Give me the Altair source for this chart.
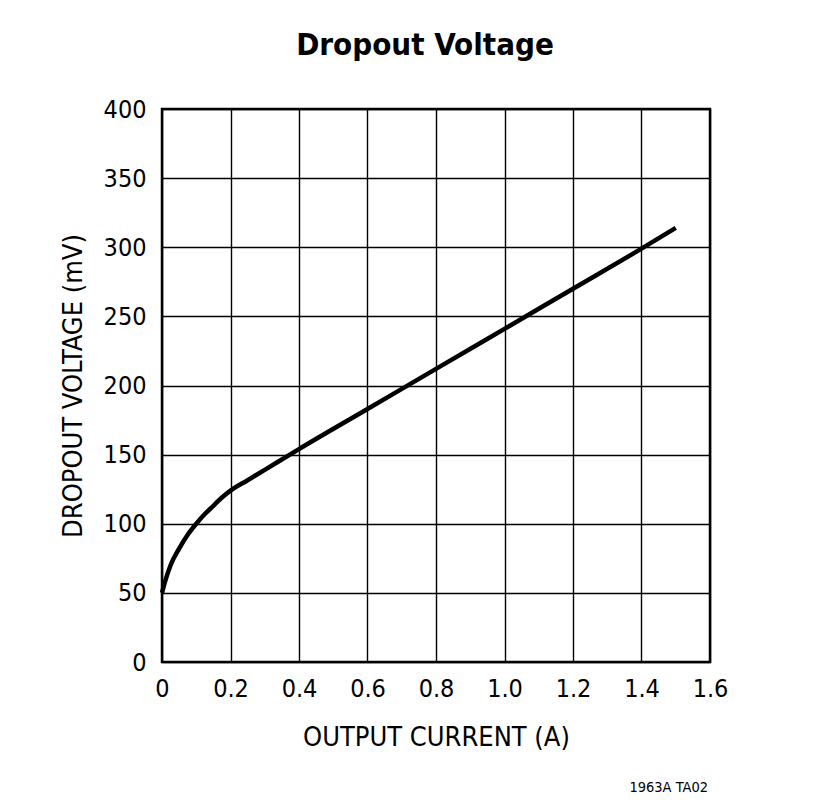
import altair as alt
import pandas as pd

current_a = [0.0, 0.01, 0.025, 0.05, 0.075, 0.1, 0.125, 0.15, 0.175, 0.2, 0.25, 0.3, 0.4, 0.6, 0.8, 1.0, 1.2, 1.4, 1.5]
dropout_mv = [50, 59, 70, 82, 92, 100, 107, 113, 119, 124, 131.5, 139, 154, 183, 212, 241, 270, 299, 314]

footnote = ["1963A TA02"]

df = pd.DataFrame({"current": current_a, "dropout": dropout_mv})
FONT = "DejaVu Sans Condensed, Liberation Sans, sans-serif"

line = alt.Chart(df).mark_line(color="black", strokeWidth=4.5, interpolate="monotone", strokeCap="butt").encode(
    x=alt.X("current:Q",
            scale=alt.Scale(domain=[0, 1.6], nice=False),
            axis=alt.Axis(values=[0, 0.2, 0.4, 0.6, 0.8, 1.0, 1.2, 1.4, 1.6],
                          labelExpr="datum.value == 0 ? '0' : format(datum.value, '.1f')",
                          labelFlush=False, labelOverlap=False,
                          title="OUTPUT CURRENT (A)", titlePadding=23, labelPadding=14)),
    y=alt.Y("dropout:Q",
            scale=alt.Scale(domain=[0, 400], nice=False),
            axis=alt.Axis(values=list(range(0, 401, 50)), labelFlush=False,
                          title="DROPOUT VOLTAGE (mV)", titlePadding=16, labelPadding=16)),
)

note = alt.Chart(pd.DataFrame({"t": footnote})).mark_text(
    align="right", baseline="alphabetic", font=FONT, fontSize=14.5, color="black"
).encode(text="t:N", x=alt.value(546), y=alt.value(683))

chart = alt.layer(line, note).properties(
    width=548, height=553,
    padding={"left": 154, "top": 101, "right": 99, "bottom": 142},
    autosize=alt.AutoSizeParams(type="none"),
    background="white",
    title=alt.TitleParams("Dropout Voltage", font=FONT, fontSize=31, fontWeight="bold",
                          color="black", anchor="middle", offset=35, dx=-11),
).configure_view(stroke="black", strokeWidth=2.5).configure_axis(
    grid=True, gridColor="black", gridWidth=1.4, gridOpacity=1,
    domain=False, ticks=False,
    labelFont=FONT, labelFontSize=25, labelColor="black",
    titleFont=FONT, titleFontSize=27, titleFontWeight="normal", titleColor="black",
)

chart.save("out.html", embed_options={"renderer": "svg", "actions": False})
